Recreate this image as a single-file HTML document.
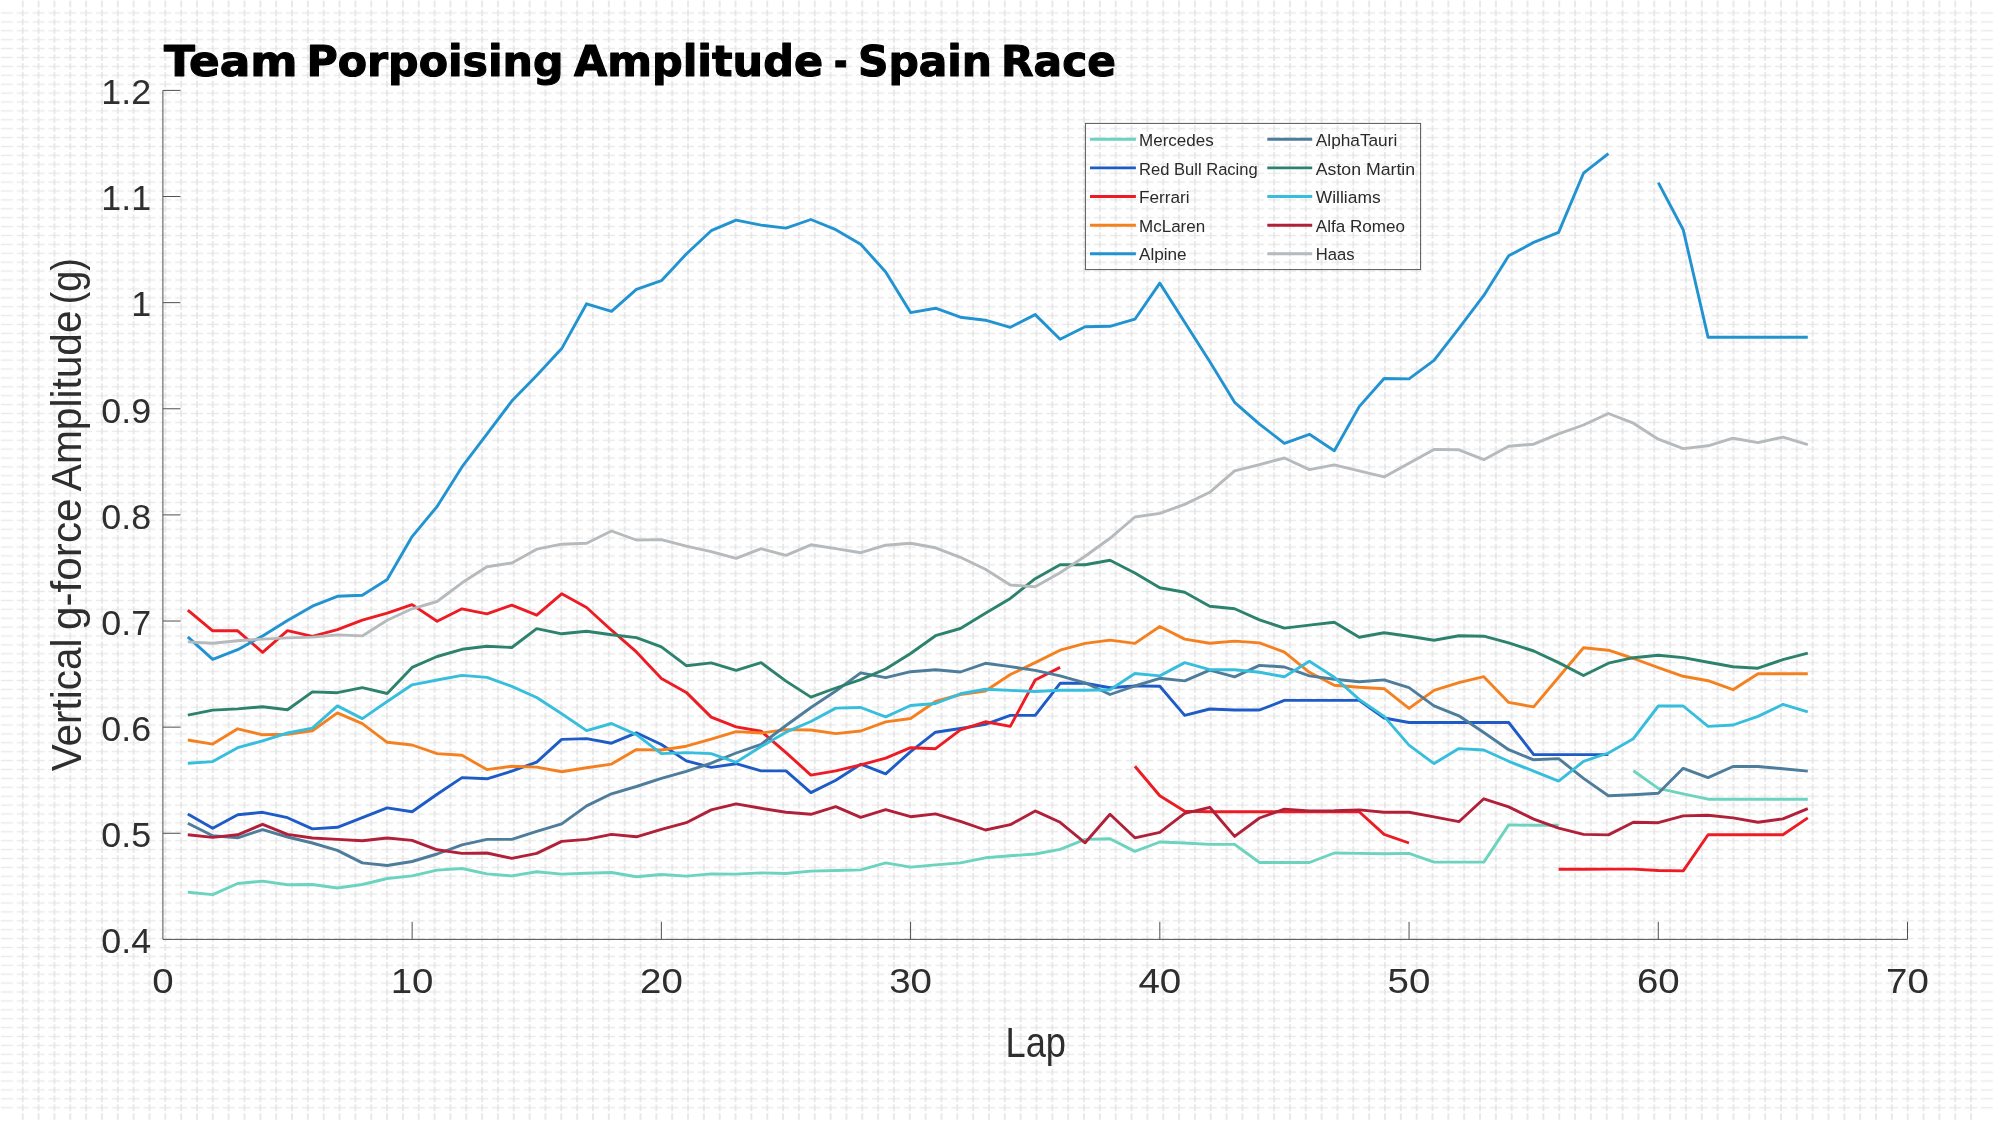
<!DOCTYPE html>
<html lang="en"><head><meta charset="utf-8"><title>Team Porpoising Amplitude - Spain Race</title>
<style>html,body{margin:0;padding:0;background:#fff;}body{width:1994px;height:1121px;overflow:hidden;}svg{display:block;will-change:transform;}text{font-family:"Liberation Sans",sans-serif;fill:#2e2e2e;}.tk{font-size:35.8px;}.lb{font-size:41.8px;}.lg{font-size:16.7px;fill:#2a2a2a;}.ttl{font-family:"DejaVu Sans","Liberation Sans",sans-serif;font-weight:bold;font-size:41.8px;fill:#000;stroke:#000;stroke-width:1.1px;stroke-linejoin:round;}.ln{fill:none;stroke-width:2.9;stroke-linejoin:round;stroke-linecap:butt;}</style></head><body>
<svg width="1994" height="1121" viewBox="0 0 1994 1121">
<defs>
<pattern id="ph" patternUnits="userSpaceOnUse" x="-1.020" y="-0.350" width="15.840" height="8.900"><rect x="1.920" y="3.750" width="12" height="1.4" fill="#e9e9e9"/></pattern>
<pattern id="pv" patternUnits="userSpaceOnUse" x="-1.020" y="-0.350" width="15.840" height="8.900"><rect x="7.020" y="1.200" width="1.8" height="6.5" fill="#e6e6e6"/></pattern>
</defs>
<rect width="1994" height="1121" fill="#fff"/>
<rect x="0" y="8.550" width="1994" height="1103.600" fill="url(#ph)"/>
<rect x="14.820" y="0" width="1964.160" height="1121" fill="url(#pv)"/>
<g stroke="#505050" stroke-width="1" fill="none">
<path d="M162.9 90.4V939.4H1907.5"/>
<path d="M162.9 833.27h17.6M162.9 727.15h17.6M162.9 621.02h17.6M162.9 514.90h17.6M162.9 408.77h17.6M162.9 302.65h17.6M162.9 196.52h17.6M162.9 90.40h17.6M412.13 939.4v-17.6M661.36 939.4v-17.6M910.59 939.4v-17.6M1159.82 939.4v-17.6M1409.05 939.4v-17.6M1658.28 939.4v-17.6M1907.51 939.4v-17.6"/>
</g>
<text class="tk" x="151.1" y="953.2" text-anchor="end">0.4</text>
<text class="tk" x="151.1" y="847.1" text-anchor="end">0.5</text>
<text class="tk" x="151.1" y="740.9" text-anchor="end">0.6</text>
<text class="tk" x="151.1" y="634.8" text-anchor="end">0.7</text>
<text class="tk" x="151.1" y="528.7" text-anchor="end">0.8</text>
<text class="tk" x="151.1" y="422.6" text-anchor="end">0.9</text>
<text class="tk" x="151.1" y="316.4" text-anchor="end">1</text>
<text class="tk" x="151.1" y="210.3" text-anchor="end">1.1</text>
<text class="tk" x="151.1" y="104.2" text-anchor="end">1.2</text>
<text class="tk" x="162.9" y="992.9" text-anchor="middle" textLength="21.4" lengthAdjust="spacingAndGlyphs">0</text>
<text class="tk" x="412.1" y="992.9" text-anchor="middle" textLength="42.8" lengthAdjust="spacingAndGlyphs">10</text>
<text class="tk" x="661.4" y="992.9" text-anchor="middle" textLength="42.8" lengthAdjust="spacingAndGlyphs">20</text>
<text class="tk" x="910.6" y="992.9" text-anchor="middle" textLength="42.8" lengthAdjust="spacingAndGlyphs">30</text>
<text class="tk" x="1159.8" y="992.9" text-anchor="middle" textLength="42.8" lengthAdjust="spacingAndGlyphs">40</text>
<text class="tk" x="1409.0" y="992.9" text-anchor="middle" textLength="42.8" lengthAdjust="spacingAndGlyphs">50</text>
<text class="tk" x="1658.3" y="992.9" text-anchor="middle" textLength="42.8" lengthAdjust="spacingAndGlyphs">60</text>
<text class="tk" x="1907.5" y="992.9" text-anchor="middle" textLength="42.8" lengthAdjust="spacingAndGlyphs">70</text>
<text class="lb" x="1035.8" y="1057.2" text-anchor="middle" textLength="60.5" lengthAdjust="spacingAndGlyphs">Lap</text>
<text class="lb" transform="translate(81 771.20) rotate(-90)" textLength="132.60" lengthAdjust="spacingAndGlyphs">Vertical</text>
<text class="lb" transform="translate(81 630.00) rotate(-90)" textLength="131.60" lengthAdjust="spacingAndGlyphs">g-force</text>
<text class="lb" transform="translate(81 491.20) rotate(-90)" textLength="180.80" lengthAdjust="spacingAndGlyphs">Amplitude</text>
<text class="lb" transform="translate(81 304.20) rotate(-90)" textLength="46.00" lengthAdjust="spacingAndGlyphs">(g)</text>
<text class="ttl" x="164.00" y="75.9" textLength="133.50" lengthAdjust="spacingAndGlyphs">Team</text>
<text class="ttl" x="306.50" y="75.9" textLength="257.00" lengthAdjust="spacingAndGlyphs">Porpoising</text>
<text class="ttl" x="574.00" y="75.9" textLength="249.00" lengthAdjust="spacingAndGlyphs">Amplitude</text>
<text class="ttl" x="834.00" y="75.9" textLength="13.50" lengthAdjust="spacingAndGlyphs">-</text>
<text class="ttl" x="858.00" y="75.9" textLength="134.00" lengthAdjust="spacingAndGlyphs">Spain</text>
<text class="ttl" x="1001.00" y="75.9" textLength="115.00" lengthAdjust="spacingAndGlyphs">Race</text>
<path class="ln" stroke="#6CD3BF" d="M187.8 892.2L212.7 894.6L237.7 883.5L262.6 881.1L287.5 884.7L312.4 884.5L337.4 888.0L362.3 884.5L387.2 878.5L412.1 875.9L437.1 870.1L462.0 868.5L486.9 873.9L511.8 875.9L536.7 871.7L561.7 874.1L586.6 873.3L611.5 872.5L636.4 876.7L661.4 874.5L686.3 876.1L711.2 873.9L736.1 874.1L761.1 872.9L786.0 873.5L810.9 871.1L835.8 870.5L860.7 869.9L885.7 862.9L910.6 867.1L935.5 864.9L960.4 862.9L985.4 857.8L1010.3 855.8L1035.2 854.0L1060.1 849.4L1085.1 839.4L1110.0 838.8L1134.9 851.4L1159.8 842.0L1184.7 843.0L1209.7 844.4L1234.6 844.4L1259.5 862.5L1284.4 862.5L1309.4 862.5L1334.3 853.0L1359.2 853.4L1384.1 853.8L1409.0 853.4L1434.0 862.1L1458.9 862.1L1483.8 862.1L1508.7 824.9L1533.7 825.3L1558.6 825.3M1633.4 770.7L1658.3 788.4L1683.2 793.8L1708.1 799.2L1733.0 799.2L1758.0 799.2L1782.9 799.2L1807.8 799.2"/>
<path class="ln" stroke="#1E5BC6" d="M187.8 813.9L212.7 828.3L237.7 814.7L262.6 812.3L287.5 817.7L312.4 828.9L337.4 827.3L362.3 817.7L387.2 807.9L412.1 811.7L437.1 794.2L462.0 777.6L486.9 778.8L511.8 771.1L536.7 762.1L561.7 739.4L586.6 738.6L611.5 743.2L636.4 732.8L661.4 744.5L686.3 760.9L711.2 767.4L736.1 763.7L761.1 770.9L786.0 770.9L810.9 792.6L835.8 780.2L860.7 764.2L885.7 773.8L910.6 751.6L935.5 732.2L960.4 728.5L985.4 724.4L1010.3 715.4L1035.2 715.4L1060.1 683.3L1085.1 683.3L1110.0 687.7L1134.9 685.9L1159.8 686.3L1184.7 715.4L1209.7 709.0L1234.6 710.0L1259.5 710.0L1284.4 700.4L1309.4 700.4L1334.3 700.4L1359.2 700.4L1384.1 718.0L1409.0 722.5L1434.0 722.5L1458.9 722.5L1483.8 722.5L1508.7 722.5L1533.7 754.6L1558.6 754.6L1583.5 754.6L1608.4 754.6"/>
<path class="ln" stroke="#ED1C24" d="M187.8 610.2L212.7 630.8L237.7 630.8L262.6 652.3L287.5 630.6L312.4 636.3L337.4 629.6L362.3 620.2L387.2 613.2L412.1 604.6L437.1 621.2L462.0 608.8L486.9 613.8L511.8 605.2L536.7 615.2L561.7 593.8L586.6 607.5L611.5 630.2L636.4 651.9L661.4 678.4L686.3 692.4L711.2 717.1L736.1 726.9L761.1 731.2L786.0 752.6L810.9 775.1L835.8 770.9L860.7 764.9L885.7 758.1L910.6 747.7L935.5 748.7L960.4 729.9L985.4 721.8L1010.3 726.4L1035.2 680.0L1060.1 667.4M1134.9 766.2L1159.8 795.7L1184.7 811.3L1209.7 811.7L1234.6 811.7L1259.5 811.7L1284.4 811.7L1309.4 811.7L1334.3 811.7L1359.2 811.7L1384.1 834.4L1409.0 843.0M1558.6 869.3L1583.5 869.3L1608.4 869.1L1633.4 869.1L1658.3 870.5L1683.2 870.9L1708.1 834.8L1733.0 834.8L1758.0 834.8L1782.9 834.8L1807.8 817.9"/>
<path class="ln" stroke="#F58020" d="M187.8 740.0L212.7 744.1L237.7 728.8L262.6 734.8L287.5 734.3L312.4 730.8L337.4 712.9L362.3 723.6L387.2 742.3L412.1 745.0L437.1 753.6L462.0 755.3L486.9 769.6L511.8 766.2L536.7 767.1L561.7 771.7L586.6 767.7L611.5 764.1L636.4 749.6L661.4 750.0L686.3 746.2L711.2 739.2L736.1 731.6L761.1 733.0L786.0 729.6L810.9 730.0L835.8 733.6L860.7 731.0L885.7 721.9L910.6 718.5L935.5 701.5L960.4 694.5L985.4 691.0L1010.3 674.5L1035.2 662.6L1060.1 650.2L1085.1 643.4L1110.0 640.1L1134.9 643.4L1159.8 626.5L1184.7 639.1L1209.7 643.2L1234.6 641.1L1259.5 642.9L1284.4 652.2L1309.4 672.3L1334.3 685.3L1359.2 687.3L1384.1 688.7L1409.0 708.4L1434.0 690.4L1458.9 682.7L1483.8 676.7L1508.7 702.4L1533.7 706.9L1558.6 677.3L1583.5 647.7L1608.4 650.2L1633.4 658.5L1658.3 667.6L1683.2 676.3L1708.1 680.7L1733.0 689.7L1758.0 673.7L1782.9 673.7L1807.8 673.7"/>
<path class="ln" stroke="#2293D1" d="M187.8 636.9L212.7 659.3L237.7 649.7L262.6 635.9L287.5 620.6L312.4 606.2L337.4 596.3L362.3 595.3L387.2 579.6L412.1 536.6L437.1 506.5L462.0 466.9L486.9 434.2L511.8 401.1L536.7 375.6L561.7 348.6L586.6 303.8L611.5 311.4L636.4 289.3L661.4 280.7L686.3 254.0L711.2 230.7L736.1 220.1L761.1 225.1L786.0 228.1L810.9 219.5L835.8 229.7L860.7 244.2L885.7 272.0L910.6 312.6L935.5 308.2L960.4 317.2L985.4 320.2L1010.3 327.3L1035.2 314.6L1060.1 339.3L1085.1 326.7L1110.0 326.3L1134.9 319.2L1159.8 283.1L1184.7 322.3L1209.7 361.5L1234.6 402.3L1259.5 424.2L1284.4 443.3L1309.4 434.3L1334.3 450.7L1359.2 406.6L1384.1 378.5L1409.0 378.9L1434.0 360.4L1458.9 328.3L1483.8 295.4L1508.7 255.8L1533.7 242.4L1558.6 232.4L1583.5 173.2L1608.4 153.7M1658.3 182.6L1683.2 229.7L1708.1 337.3L1733.0 337.3L1758.0 337.3L1782.9 337.3L1807.8 337.3"/>
<path class="ln" stroke="#4E7C9B" d="M187.8 823.3L212.7 835.8L237.7 837.8L262.6 829.7L287.5 837.0L312.4 843.0L337.4 850.4L362.3 862.9L387.2 865.5L412.1 861.5L437.1 854.0L462.0 844.8L486.9 839.4L511.8 839.4L536.7 831.4L561.7 823.9L586.6 805.9L611.5 793.8L636.4 786.5L661.4 778.4L686.3 771.4L711.2 763.1L736.1 753.0L761.1 744.3L786.0 725.5L810.9 707.5L835.8 691.0L860.7 672.8L885.7 677.7L910.6 671.7L935.5 669.8L960.4 672.0L985.4 663.3L1010.3 666.6L1035.2 670.4L1060.1 675.8L1085.1 682.8L1110.0 694.5L1134.9 686.0L1159.8 678.3L1184.7 680.9L1209.7 670.2L1234.6 676.9L1259.5 665.4L1284.4 667.0L1309.4 675.9L1334.3 679.3L1359.2 681.7L1384.1 679.9L1409.0 687.7L1434.0 705.8L1458.9 715.8L1483.8 732.5L1508.7 749.7L1533.7 759.8L1558.6 758.6L1583.5 778.4L1608.4 795.7L1633.4 794.7L1658.3 793.3L1683.2 768.3L1708.1 777.6L1733.0 766.5L1758.0 766.5L1782.9 768.7L1807.8 771.1"/>
<path class="ln" stroke="#2D826D" d="M187.8 715.1L212.7 710.1L237.7 708.9L262.6 706.7L287.5 709.7L312.4 691.9L337.4 692.7L362.3 687.6L387.2 693.5L412.1 667.4L437.1 656.5L462.0 649.3L486.9 646.3L511.8 647.5L536.7 628.6L561.7 633.8L586.6 631.2L611.5 634.8L636.4 637.6L661.4 646.9L686.3 665.7L711.2 662.9L736.1 670.4L761.1 662.7L786.0 681.1L810.9 697.1L835.8 688.0L860.7 679.6L885.7 669.0L910.6 653.5L935.5 635.7L960.4 628.5L985.4 613.3L1010.3 598.4L1035.2 578.7L1060.1 564.7L1085.1 564.7L1110.0 560.2L1134.9 573.0L1159.8 587.7L1184.7 592.3L1209.7 606.2L1234.6 608.8L1259.5 619.9L1284.4 628.1L1309.4 625.1L1334.3 622.2L1359.2 637.2L1384.1 632.7L1409.0 636.2L1434.0 640.2L1458.9 635.8L1483.8 636.2L1508.7 642.9L1533.7 651.0L1558.6 662.6L1583.5 675.5L1608.4 663.2L1633.4 657.7L1658.3 655.2L1683.2 657.6L1708.1 662.2L1733.0 666.8L1758.0 668.2L1782.9 659.6L1807.8 653.2"/>
<path class="ln" stroke="#37BEDD" d="M187.8 763.3L212.7 761.6L237.7 747.7L262.6 740.8L287.5 733.0L312.4 728.2L337.4 705.9L362.3 718.6L387.2 701.5L412.1 684.8L437.1 680.0L462.0 675.4L486.9 677.4L511.8 686.4L536.7 697.5L561.7 713.8L586.6 730.6L611.5 723.5L636.4 734.6L661.4 753.6L686.3 752.6L711.2 753.6L736.1 762.3L761.1 746.6L786.0 732.2L810.9 721.5L835.8 708.1L860.7 707.5L885.7 716.9L910.6 705.5L935.5 703.5L960.4 693.8L985.4 689.2L1010.3 690.4L1035.2 691.5L1060.1 690.2L1085.1 690.3L1110.0 689.7L1134.9 673.5L1159.8 675.9L1184.7 662.6L1209.7 669.6L1234.6 669.8L1259.5 672.3L1284.4 676.7L1309.4 661.2L1334.3 677.3L1359.2 699.4L1384.1 716.4L1409.0 745.1L1434.0 763.6L1458.9 748.6L1483.8 750.0L1508.7 761.3L1533.7 771.1L1558.6 781.1L1583.5 761.4L1608.4 753.0L1633.4 738.7L1658.3 706.0L1683.2 706.0L1708.1 726.4L1733.0 725.0L1758.0 716.4L1782.9 704.4L1807.8 711.8"/>
<path class="ln" stroke="#B12039" d="M187.8 834.8L212.7 837.4L237.7 834.8L262.6 824.3L287.5 834.4L312.4 838.0L337.4 839.4L362.3 840.8L387.2 838.0L412.1 840.4L437.1 849.8L462.0 853.4L486.9 853.0L511.8 858.4L536.7 853.4L561.7 841.4L586.6 839.4L611.5 834.4L636.4 836.8L661.4 829.3L686.3 822.7L711.2 809.9L736.1 803.9L761.1 808.3L786.0 812.3L810.9 814.3L835.8 806.7L860.7 817.3L885.7 809.7L910.6 816.7L935.5 813.9L960.4 821.3L985.4 830.0L1010.3 824.7L1035.2 810.9L1060.1 822.3L1085.1 842.8L1110.0 814.3L1134.9 837.8L1159.8 832.4L1184.7 813.3L1209.7 807.3L1234.6 836.4L1259.5 818.0L1284.4 809.1L1309.4 810.9L1334.3 810.7L1359.2 809.9L1384.1 812.3L1409.0 812.3L1434.0 816.9L1458.9 821.7L1483.8 798.8L1508.7 806.9L1533.7 819.1L1558.6 828.1L1583.5 834.4L1608.4 834.9L1633.4 822.3L1658.3 822.7L1683.2 815.9L1708.1 815.3L1733.0 817.9L1758.0 822.3L1782.9 818.9L1807.8 808.7"/>
<path class="ln" stroke="#B6BABD" d="M187.8 641.9L212.7 643.3L237.7 640.7L262.6 639.1L287.5 637.9L312.4 637.1L337.4 634.9L362.3 635.9L387.2 620.2L412.1 608.8L437.1 601.5L462.0 582.8L486.9 566.8L511.8 563.0L536.7 549.2L561.7 544.2L586.6 543.2L611.5 531.0L636.4 540.0L661.4 539.6L686.3 546.2L711.2 551.6L736.1 558.3L761.1 548.7L786.0 555.3L810.9 544.8L835.8 548.6L860.7 552.7L885.7 545.2L910.6 543.2L935.5 547.8L960.4 557.3L985.4 569.3L1010.3 585.0L1035.2 586.8L1060.1 572.7L1085.1 556.3L1110.0 538.3L1134.9 517.0L1159.8 513.4L1184.7 504.4L1209.7 492.3L1234.6 470.8L1259.5 464.6L1284.4 458.0L1309.4 469.6L1334.3 464.8L1359.2 470.8L1384.1 476.9L1409.0 463.2L1434.0 449.4L1458.9 449.8L1483.8 459.7L1508.7 446.2L1533.7 444.2L1558.6 433.8L1583.5 425.0L1608.4 413.5L1633.4 423.2L1658.3 439.2L1683.2 448.6L1708.1 445.8L1733.0 438.2L1758.0 442.6L1782.9 437.2L1807.8 444.6"/>
<rect x="1085.4" y="123.4" width="335.2" height="146.2" fill="none" stroke="#565656" stroke-width="1"/>
<path class="ln" stroke="#6CD3BF" d="M1090 139.3H1135.9"/>
<text class="lg" x="1139.0" y="145.9" textLength="74.7" lengthAdjust="spacingAndGlyphs">Mercedes</text>
<path class="ln" stroke="#4E7C9B" d="M1267.3 139.3H1312.2"/>
<text class="lg" x="1315.8" y="145.9" textLength="81.5" lengthAdjust="spacingAndGlyphs">AlphaTauri</text>
<path class="ln" stroke="#1E5BC6" d="M1090 167.9H1135.9"/>
<text class="lg" x="1139.0" y="174.5" textLength="118.7" lengthAdjust="spacingAndGlyphs">Red Bull Racing</text>
<path class="ln" stroke="#2D826D" d="M1267.3 167.9H1312.2"/>
<text class="lg" x="1315.8" y="174.5" textLength="99.3" lengthAdjust="spacingAndGlyphs">Aston Martin</text>
<path class="ln" stroke="#ED1C24" d="M1090 196.5H1135.9"/>
<text class="lg" x="1139.0" y="203.1" textLength="50.6" lengthAdjust="spacingAndGlyphs">Ferrari</text>
<path class="ln" stroke="#37BEDD" d="M1267.3 196.5H1312.2"/>
<text class="lg" x="1315.8" y="203.1" textLength="64.8" lengthAdjust="spacingAndGlyphs">Williams</text>
<path class="ln" stroke="#F58020" d="M1090 225.2H1135.9"/>
<text class="lg" x="1139.0" y="231.8" textLength="66.2" lengthAdjust="spacingAndGlyphs">McLaren</text>
<path class="ln" stroke="#B12039" d="M1267.3 225.2H1312.2"/>
<text class="lg" x="1315.8" y="231.8" textLength="89.1" lengthAdjust="spacingAndGlyphs">Alfa Romeo</text>
<path class="ln" stroke="#2293D1" d="M1090 253.8H1135.9"/>
<text class="lg" x="1139.0" y="260.4" textLength="47.6" lengthAdjust="spacingAndGlyphs">Alpine</text>
<path class="ln" stroke="#B6BABD" d="M1267.3 253.8H1312.2"/>
<text class="lg" x="1315.8" y="260.4" textLength="38.8" lengthAdjust="spacingAndGlyphs">Haas</text>
</svg></body></html>
